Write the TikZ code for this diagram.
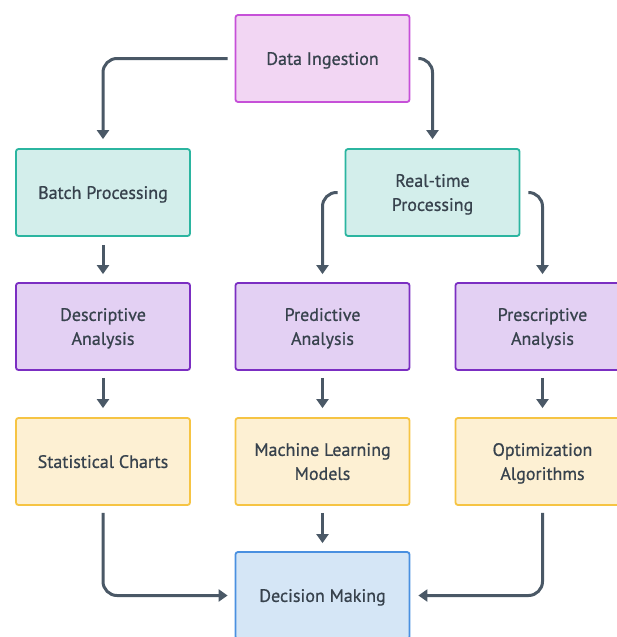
\documentclass[tikz,border=0pt]{standalone}
\usepackage{fontspec}
\setmainfont[FakeBold=0.7]{PT Sans}
\usetikzlibrary{arrows.meta}

\definecolor{inkText}{HTML}{37424D}
\definecolor{linkCol}{HTML}{4A5866}
\definecolor{ingFill}{HTML}{F2D6F3}
\definecolor{ingDraw}{HTML}{C650D8}
\definecolor{procFill}{HTML}{D3EEEB}
\definecolor{procDraw}{HTML}{2BB5A0}
\definecolor{anaFill}{HTML}{E3D0F3}
\definecolor{anaDraw}{HTML}{7B2EC2}
\definecolor{outFill}{HTML}{FDF0D3}
\definecolor{outDraw}{HTML}{F6C443}
\definecolor{decFill}{HTML}{D5E6F6}
\definecolor{decDraw}{HTML}{4A90E0}

\tikzset{
  box/.style={rectangle, rounded corners=2.5pt, line width=1.8pt,
    minimum width=174pt, minimum height=87pt, inner sep=0pt,
    text depth=0pt,
    align=center, text=inkText, font=\fontsize{18}{24}\selectfont},
  ingest/.style={box, fill=ingFill, draw=ingDraw},
  proc/.style={box, fill=procFill, draw=procDraw},
  analysis/.style={box, fill=anaFill, draw=anaDraw},
  result/.style={box, fill=outFill, draw=outDraw},
  decide/.style={box, fill=decFill, draw=decDraw},
  conn/.style={draw=linkCol, line width=3pt, rounded corners=14pt,
    -{Triangle[width=12pt,length=9pt]}}
}

\begin{document}
\begin{tikzpicture}[x=1pt,y=-1pt]
  \useasboundingbox (0,0) rectangle (617,637);

  % top row
  \node[ingest] (di) at (322.5,58.5) {Data Ingestion};
  % processing modes
  \node[proc] (bp) at (103,192.5) {Batch Processing};
  \node[proc] (rt) at (432.5,192.5) {Real-time\\Processing};
  % analysis types
  \node[analysis] (da) at (103,326.5) {Descriptive\\Analysis};
  \node[analysis] (pa) at (322.5,326.5) {Predictive\\Analysis};
  \node[analysis] (sa) at (542.5,326.5) {Prescriptive\\Analysis};
  % outputs
  \node[result] (sc) at (103,461.5) {Statistical Charts};
  \node[result] (ml) at (322.5,461.5) {Machine Learning\\Models};
  \node[result] (oa) at (542.5,461.5) {Optimization\\Algorithms};
  % final step
  \node[decide] (dm) at (322.5,595.5) {Decision Making};

  % connectors
  \draw[conn] ([xshift=-7pt]di.west) -| ([yshift=9pt]bp.north);
  \draw[conn] ([xshift=8pt]di.east) -| ([yshift=9pt]rt.north);
  \draw[conn] ([xshift=-7pt]rt.west) -| ([yshift=8pt]pa.north);
  \draw[conn] ([xshift=8pt]rt.east) -| ([yshift=8pt]sa.north);
  \draw[conn] ([yshift=-8pt]bp.south) -- ([yshift=8pt]da.north);
  \draw[conn] ([yshift=-7pt]da.south) -- ([yshift=9pt]sc.north);
  \draw[conn] ([yshift=-7pt]pa.south) -- ([yshift=9pt]ml.north);
  \draw[conn] ([yshift=-7pt]sa.south) -- ([yshift=9pt]oa.north);
  \draw[conn] ([yshift=-7pt]ml.south) -- ([yshift=8pt]dm.north);
  \draw[conn] ([yshift=-7pt]sc.south) |- ([xshift=-7pt]dm.west);
  \draw[conn] ([yshift=-7pt]oa.south) |- ([xshift=8pt]dm.east);
\end{tikzpicture}
\end{document}
